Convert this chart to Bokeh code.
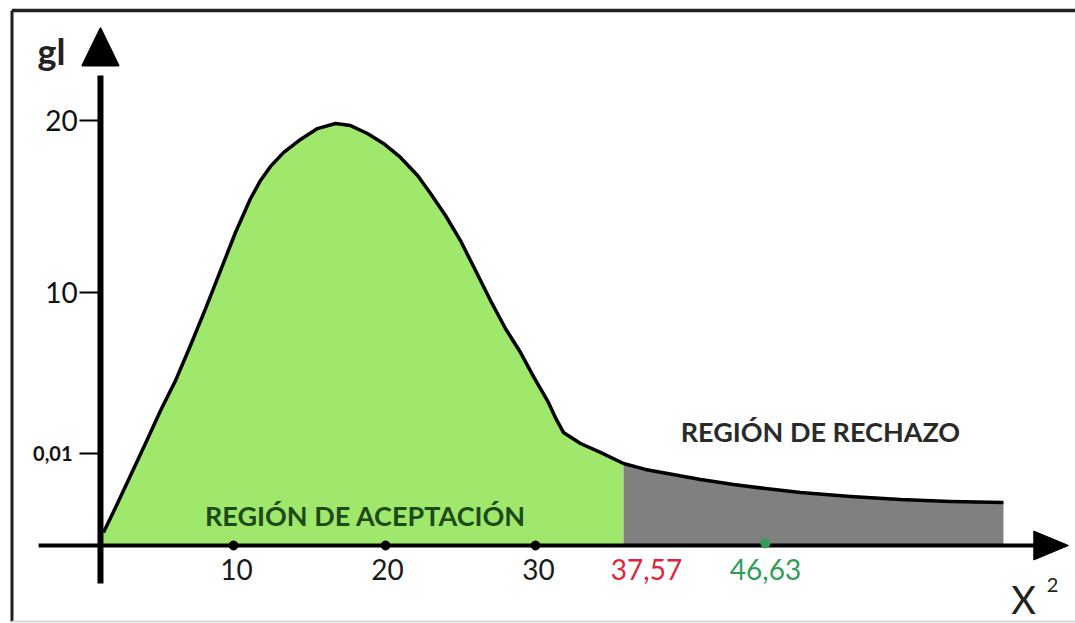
from bokeh.plotting import figure
from bokeh.models import Range1d
from bokeh.core.properties import value
from bokeh.embed import file_html
from bokeh.resources import INLINE

# ---------------- data ----------------
# chi-square density sketch (x in chi-square units, y in "gl" units)
curve_x = [1.39, 2.19, 3.18, 4.17, 5.17, 6.16, 7.15, 8.15, 9.14, 10.13,
           11.13, 11.79, 12.45, 13.31, 14.44, 15.56, 16.75, 17.75, 18.87, 19.93,
           21.06, 22.19, 23.05, 24.04, 25.03, 26.03, 27.02, 28.01, 29.01, 29.87,
           30.79, 31.32, 31.85, 32.98, 34.30, 35.83, 37.28, 38.74, 40.93, 43.11,
           45.23, 47.55, 50.86, 54.17, 57.48, 60.99]
curve_y = [0.61, 1.79, 3.29, 4.80, 6.35, 7.76, 9.41, 11.15, 12.94, 14.73,
           16.33, 17.18, 17.84, 18.49, 19.11, 19.62, 19.86, 19.76, 19.39, 18.92,
           18.26, 17.41, 16.56, 15.53, 14.35, 12.94, 11.53, 10.21, 9.08, 7.95,
           6.82, 6.02, 5.32, 4.80, 4.38, 3.86, 3.58, 3.39, 3.11, 2.87,
           2.68, 2.49, 2.31, 2.16, 2.07, 2.02]
cut_x = 35.83                       # boundary between acceptance / rejection

y_tick_pos = [20.0, 11.91, 4.33]
y_tick_labels = ["20", "10", "0,01"]
x_dot_pos = [10.0, 20.07, 30.0]
x_label_pos = [10.2, 20.2, 30.2, 37.35, 45.23]
x_labels = ["10", "20", "30", "37,57", "46,63"]
x_label_colors = ["#1a1a1a", "#1a1a1a", "#1a1a1a", "#e0253a", "#2f9e57"]
critical_pos = 45.23

# ---------------- layout ----------------
W, H = 1075, 623
OFF = 0
PX_X, PX_Y = 15.1, 21.25            # pixels per data unit
x0 = (OFF - 82) / PX_X
y1 = (545 - OFF) / PX_Y
xr = Range1d(x0, x0 + W / PX_X)
yr = Range1d(y1 - H / PX_Y, y1)

p = figure(width=W, height=H, x_range=xr, y_range=yr, output_backend="svg",
           toolbar_location=None, x_axis_type=None, y_axis_type=None,
           min_border=0, outline_line_color=None)
p.grid.visible = False
p.background_fill_color = "white"
p.border_fill_color = "white"

# frame (left & top, faint bottom)
left_x = (11.5 - 82) / PX_X
top_y = (545 - 10) / PX_Y
bot_y = (545 - 621) / PX_Y
p.line([left_x, left_x], [bot_y, top_y], line_color="#202020", line_width=3)
p.line([left_x, xr.end], [top_y, top_y], line_color="#202020", line_width=3.5)
p.line([left_x, xr.end], [bot_y, bot_y], line_color="#d0d0d0", line_width=1.5)

# regions
gx = [x for x in curve_x if x <= cut_x]
gy = curve_y[:len(gx)]
rx = [x for x in curve_x if x >= cut_x]
ry = curve_y[len(curve_x) - len(rx):]
p.varea(x=[curve_x[0] - 0.2] + gx, y1=0, y2=[0] + gy, fill_color="#a0e86c")
p.varea(x=rx, y1=0, y2=ry, fill_color="#808080")
p.line(curve_x, curve_y, line_color="black", line_width=3.5, line_join="round")

# axes
yax = 1.19
p.line([-2.91, 63.3], [0, 0], line_color="black", line_width=4)
p.patch([63.0, 65.3, 63.0], [0.68, 0, -0.68], fill_color="black", line_color="black")
p.line([yax, yax], [-1.79, 22.12], line_color="black", line_width=6)
p.patch([yax - 1.19, yax, yax + 1.19], [22.59, 24.33, 22.59], fill_color="black",
        line_color="black", line_width=2, line_join="round")

# y ticks
for yp in y_tick_pos:
    p.line([-0.2, yax], [yp, yp], line_color="black", line_width=2)
p.text(x=[-0.32, -0.32], y=y_tick_pos[:2], text=y_tick_labels[:2],
       text_font=value("Lato"), text_font_size="28px", text_color="#111111",
       text_align="right", text_baseline="middle")
p.text(x=[-0.66], y=y_tick_pos[2:], text=y_tick_labels[2:],
       text_font=value("Lato"), text_font_style="bold",
       text_font_size="20px", text_color="#111111",
       text_align="right", text_baseline="middle")

# x ticks
p.scatter(x_dot_pos, [0] * len(x_dot_pos), size=9, color="black")
p.scatter([critical_pos], [0.1], size=9, color="#2f9e57")
p.text(x=x_label_pos, y=[-1.13] * len(x_labels), text=x_labels,
       text_color=x_label_colors, text_font=value("Lato"), text_font_size="28px",
       text_align="center", text_baseline="middle")

# annotations
p.text(x=[18.74], y=[1.41], text=["REGIÓN DE ACEPTACIÓN"], text_color="#1d4a16",
       text_font=value("Lato"), text_font_style="bold", text_font_size="27px",
       text_align="center", text_baseline="middle")
p.text(x=[48.87], y=[5.36], text=["REGIÓN DE RECHAZO"], text_color="#2a2a2a",
       text_font=value("Lato"), text_font_style="bold", text_font_size="27px",
       text_align="center", text_baseline="middle")
p.text(x=[-2.05], y=[23.29], text=["gl"], text_color="#222222",
       text_font=value("Lato"), text_font_style="bold", text_font_size="36px",
       text_align="center", text_baseline="middle")
p.text(x=[62.32], y=[-2.54], text=["X"], text_color="#222222",
       text_font=value("Lato"), text_font_size="38px",
       text_align="center", text_baseline="middle")
p.text(x=[64.24], y=[-1.88], text=["2"], text_color="#222222",
       text_font=value("Lato"), text_font_size="20px",
       text_align="center", text_baseline="middle")

open("out.html", "w").write(file_html(p, INLINE))
